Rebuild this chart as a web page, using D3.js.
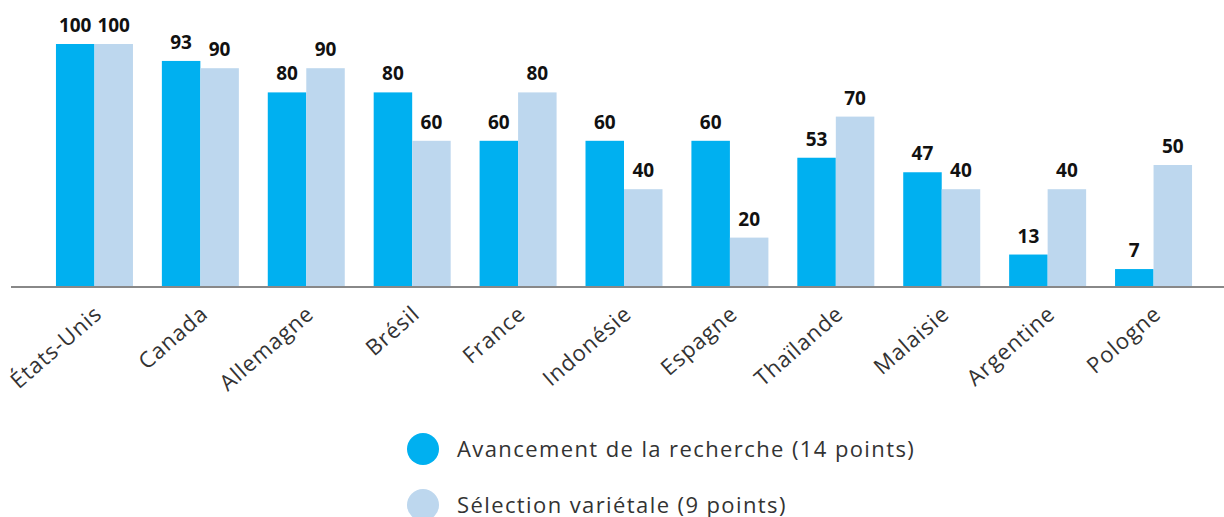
<!DOCTYPE html>
<html>
<head>
<meta charset="utf-8">
<script src="https://cdn.jsdelivr.net/npm/d3@7"></script>
<style>
  body { margin: 0; background: #fff; }
  svg { display: block; font-family: "Open Sans", "Noto Sans", sans-serif; }
  .val { font-weight: 700; font-size: 19px; fill: #111; }
  .cat { font-size: 22px; fill: #333; letter-spacing: 0.9px; }
  .legend { font-size: 22px; fill: #333; letter-spacing: 1.4px; }
</style>
</head>
<body>
<svg width="1224" height="517"></svg>
<script>
var countries = ["États-Unis", "Canada", "Allemagne", "Brésil", "France", "Indonésie",
                 "Espagne", "Thaïlande", "Malaisie", "Argentine", "Pologne"];
var recherche = [100, 93, 80, 80, 60, 60, 60, 53, 47, 13, 7];
var selection = [100, 90, 90, 60, 80, 40, 20, 70, 40, 40, 50];
var seriesNames = ["Avancement de la recherche (14 points)", "Sélection variétale (9 points)"];
var colors = ["#00b0f0", "#bdd7ee"];

var svg = d3.select("svg");
var baseY = 286;

var x = d3.scaleBand()
    .domain(countries)
    .range([41.5, 1206.5])
    .paddingInner(0.273)
    .paddingOuter(0.1365);

var xSub = d3.scaleBand()
    .domain([0, 1])
    .range([0, x.bandwidth()]);

var y = d3.scaleLinear().domain([0, 100]).range([baseY, 44]);

var rows = countries.map(function(c, i) {
    return { name: c, vals: [recherche[i], selection[i]] };
});

var groups = svg.selectAll(".grp")
    .data(rows)
    .enter()
    .append("g")
    .attr("class", "grp")
    .attr("transform", function(d) { return "translate(" + x(d.name) + ",0)"; });

groups.selectAll("rect")
    .data(function(d) { return d.vals; })
    .enter()
    .append("rect")
    .attr("x", function(d, i) { return xSub(i); })
    .attr("y", function(d) { return y(d); })
    .attr("width", xSub.bandwidth())
    .attr("height", function(d) { return baseY - y(d); })
    .attr("fill", function(d, i) { return colors[i]; });

groups.selectAll(".val")
    .data(function(d) { return d.vals; })
    .enter()
    .append("text")
    .attr("class", "val")
    .attr("text-anchor", "middle")
    .attr("x", function(d, i) { return xSub(i) + xSub.bandwidth() / 2; })
    .attr("y", function(d) { return y(d) - 12; })
    .text(function(d) { return d; });

// baseline
svg.append("line")
    .attr("x1", 11).attr("x2", 1224)
    .attr("y1", baseY + 1).attr("y2", baseY + 1)
    .attr("stroke", "#888")
    .attr("stroke-width", 2);

// category labels
svg.selectAll(".cat")
    .data(countries)
    .enter()
    .append("text")
    .attr("class", "cat")
    .attr("text-anchor", "end")
    .attr("transform", function(d) {
        return "translate(" + (x(d) + x.bandwidth() / 2 + 9) + "," + (baseY + 30) + ") rotate(-41)";
    })
    .text(function(d) { return d; });

// legend
var leg = svg.selectAll(".leg")
    .data(seriesNames)
    .enter()
    .append("g")
    .attr("class", "leg")
    .attr("transform", function(d, i) { return "translate(423," + (449 + i * 56) + ")"; });

leg.append("circle")
    .attr("r", 16)
    .attr("fill", function(d, i) { return colors[i]; });

leg.append("text")
    .attr("class", "legend")
    .attr("x", 34)
    .attr("y", 8)
    .text(function(d) { return d; });
</script>
</body>
</html>
